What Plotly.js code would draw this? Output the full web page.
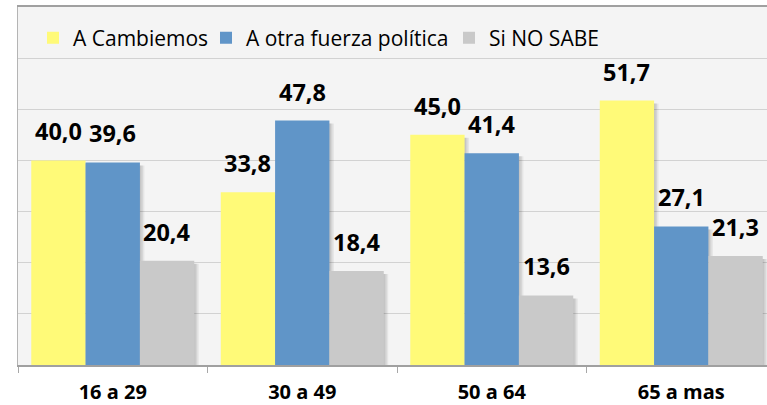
<!DOCTYPE html>
<html>
<head>
<meta charset="utf-8">
<script src="https://cdn.plot.ly/plotly-3.0.1.min.js"></script>
<style>html,body{margin:0;padding:0;background:#fff;}#chart{width:767px;height:405px;}</style>
</head>
<body>
<div id="chart"></div>
<script>
const categories = ['16 a 29', '30 a 49', '50 a 64', '65 a mas'];
const seriesNames = ['A Cambiemos', 'A otra fuerza política', 'Si NO SABE'];
const cambiemos = [40.0, 33.8, 45.0, 51.7];
const otraFuerza = [39.6, 47.8, 41.4, 27.1];
const noSabe = [20.4, 18.4, 13.6, 21.3];

const seriesValues = [cambiemos, otraFuerza, noSabe];
const colors = ['#FFFA78', '#6095C8', '#C9C9C9'];
const legendIds = ['legend', 'legend2', 'legend3'];

const catPx = 189.5;           // px per category
const pxPerUnit = 358 / 70;    // px per value unit
const barW = 0.2867;
const groupStart = -0.43;

const traces = [];
// soft shadows
const shadowLayers = [{dx: 1.5, a: 0.07}, {dx: 3, a: 0.07}, {dx: 4.5, a: 0.06}];
seriesValues.forEach((vals, i) => {
  shadowLayers.forEach(s => {
    traces.push({
      type: 'bar', x: categories, y: vals,
      base: vals.map(() => -3 / pxPerUnit),
      offset: groupStart + i * barW + s.dx / catPx, width: barW,
      marker: {color: 'rgba(0,0,0,' + s.a + ')', line: {width: 0}},
      showlegend: false, hoverinfo: 'skip'
    });
  });
});
seriesValues.forEach((vals, i) => {
  traces.push({
    type: 'bar', name: seriesNames[i], x: categories, y: vals,
    offset: groupStart + i * barW, width: barW,
    marker: {color: colors[i], line: {width: 0}},
    legend: legendIds[i]
  });
});

const annotations = [];
seriesValues.forEach((vals, i) => {
  vals.forEach((v, j) => {
    annotations.push({
      x: j, xref: 'x', y: v, yref: 'y',
      xshift: (groupStart + (i + 0.5) * barW) * catPx,
      yanchor: 'bottom', xanchor: 'center', yshift: 11,
      text: v.toFixed(1).replace('.', ','), showarrow: false,
      font: {family: 'Open Sans, sans-serif', size: 23.5, color: '#000', weight: 'bold'}
    });
  });
});

const legendBase = {
  orientation: 'h', yanchor: 'middle', y: 0.913, xanchor: 'left',
  bgcolor: 'rgba(0,0,0,0)', borderwidth: 0,
  font: {family: 'Open Sans, sans-serif', size: 21, color: '#000'}
};
const legendX = [33, 206, 449].map(px => (px - 18) / 749);

const layout = {
  width: 767, height: 405,
  margin: {l: 18, r: 0, t: 7, b: 40, pad: 0},
  paper_bgcolor: '#ffffff', plot_bgcolor: '#F4F4F4',
  barmode: 'overlay',
  xaxis: {
    type: 'category', range: [-0.5, -0.5 + 749 / catPx],
    showline: true, linecolor: '#A0A0A0', linewidth: 2, mirror: true,
    ticks: 'outside', tickson: 'boundaries', ticklen: 6, tickcolor: '#A8A8A8', tickwidth: 1,
    showgrid: false, ticklabelstandoff: 8,
    tickfont: {family: 'Open Sans, sans-serif', size: 20, color: '#000', weight: 'bold'}
  },
  yaxis: {
    range: [0, 70], dtick: 10, showticklabels: false,
    showgrid: true, gridcolor: '#D2D2D2', gridwidth: 1,
    showline: true, linecolor: '#B4B4B4', linewidth: 1.5,
    zeroline: false, ticks: ''
  },
  legend: Object.assign({}, legendBase, {x: legendX[0]}),
  legend2: Object.assign({}, legendBase, {x: legendX[1]}),
  legend3: Object.assign({}, legendBase, {x: legendX[2]}),
  annotations: annotations,
  showlegend: true
};

Plotly.newPlot('chart', traces, layout, {displayModeBar: false, staticPlot: true});
</script>
</body>
</html>
